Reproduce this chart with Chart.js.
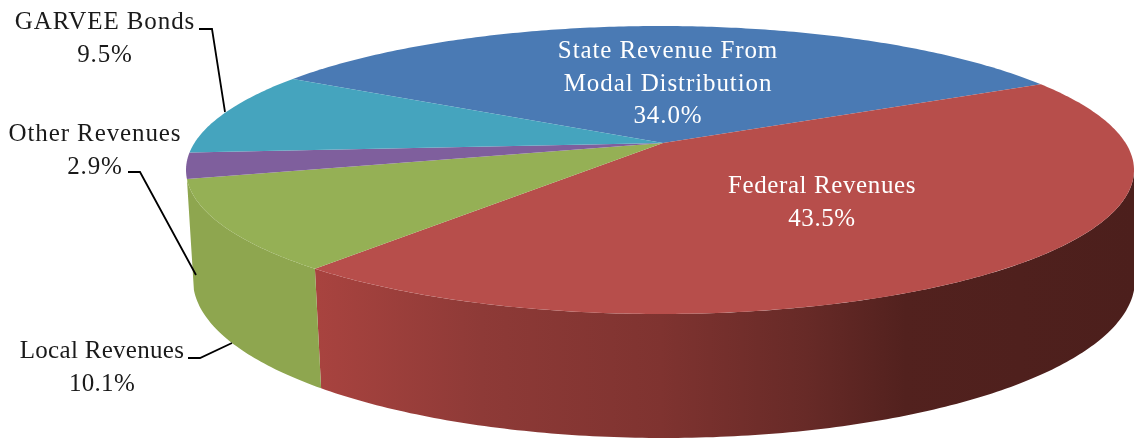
<!DOCTYPE html>
<html>
<head>
<meta charset="utf-8">
<title>Revenue sources</title>
<script src="https://cdn.jsdelivr.net/npm/chart.js@4"></script>
<style>
    html, body { margin: 0; padding: 0; background: #fff; }
    canvas { display: block; }
</style>
</head>
<body>
<canvas id="pieChart" width="1134" height="440"></canvas>
<script>
var categories = ['State Revenue From Modal Distribution', 'Federal Revenues', 'Local Revenues', 'Other Revenues', 'GARVEE Bonds'];
var shares = [34.0, 43.5, 10.1, 2.9, 9.5];
var sliceColors = ['#4a7ab4', '#b74e4b', '#95b055', '#7f5f9d', '#45a4be'];

// label placement: line breaks, anchor, and text colour per slice
var labelLines = [
    ['State Revenue From', 'Modal Distribution'],
    ['Federal Revenues'],
    ['Local Revenues'],
    ['Other Revenues'],
    ['GARVEE Bonds']
];
var labelAnchors = [[668, 58], [822, 193], [102, 358], [95, 141], [105, 29]];
var labelSpacing = [0.9, 0.6, 0.3, 0.9, 0.9];
var labelColors = ['#fff', '#fff', '#1a1a1a', '#1a1a1a', '#1a1a1a'];
var leaders = [
    [[199, 29], [212, 29], [225, 112]],
    [[128, 172], [140, 172], [196, 275]],
    [[188, 358], [200, 358], [232, 343]]
];

// shape of the tilted disc
var topRim = { x: 660, y: 170, rx: 474, ry: 144 };
var bottomRim = { x: 664, y: 280, rx: 471, ry: 158 };
var tilt = -0.188;
var apexShift = 3;

function project(rim, angle) {
    var u = Math.cos(angle);
    var v = Math.sin(angle);
    var d = 1 + tilt * v;
    return {
        x: rim.x + rim.rx * u * Math.sqrt(1 - tilt * tilt) / d,
        y: rim.y + rim.ry * (v + tilt) / d
    };
}

function traceRim(ctx, rim, start, end) {
    var steps = Math.max(2, Math.ceil(Math.abs(end - start) * 80));
    for (var i = 0; i <= steps; i++) {
        var p = project(rim, start + (end - start) * i / steps);
        ctx.lineTo(p.x, p.y);
    }
}

function wallFill(ctx, index, color) {
    if (index !== 1) {
        return index === 2 ? '#8ea64f' : color;
    }
    var g = ctx.createLinearGradient(318, 0, 1134, 0);
    g.addColorStop(0, '#a8433f');
    g.addColorStop(0.2, '#8e3a37');
    g.addColorStop(0.42, '#7f3330');
    g.addColorStop(0.6, '#672a27');
    g.addColorStop(0.72, '#52211e');
    g.addColorStop(1, '#4c1f1c');
    return g;
}

function drawWall(ctx, arc, fill) {
    // only the part of the rim that faces the viewer has a wall
    var frontStart = Math.asin(-tilt);
    var start = Math.max(arc.startAngle, frontStart);
    var end = Math.min(arc.endAngle, Math.PI - frontStart);
    if (end - start < 0.1) {
        return;
    }
    ctx.beginPath();
    traceRim(ctx, topRim, start, end);
    traceRim(ctx, bottomRim, end, start);
    ctx.closePath();
    ctx.fillStyle = fill;
    ctx.fill();
}

function drawFace(ctx, arc) {
    ctx.beginPath();
    ctx.moveTo(topRim.x + apexShift, topRim.y + topRim.ry * tilt);
    traceRim(ctx, topRim, arc.startAngle, arc.endAngle);
    ctx.closePath();
    ctx.fillStyle = arc.options.backgroundColor;
    ctx.fill();
}

var disc3d = {
    id: 'disc3d',
    beforeDatasetsDraw: function(chart) {
        var ctx = chart.ctx;
        var arcs = chart.getDatasetMeta(0).data;

        arcs.forEach(function(arc, i) {
            drawWall(ctx, arc, wallFill(ctx, i, arc.options.backgroundColor));
        });
        arcs.forEach(function(arc) {
            drawFace(ctx, arc);
        });
        return false;
    },
    afterDraw: function(chart) {
        var ctx = chart.ctx;
        ctx.save();
        ctx.strokeStyle = '#000';
        ctx.lineWidth = 1.8;
        leaders.forEach(function(line) {
            ctx.beginPath();
            ctx.moveTo(line[0][0], line[0][1]);
            ctx.lineTo(line[1][0], line[1][1]);
            ctx.lineTo(line[2][0], line[2][1]);
            ctx.stroke();
        });

        ctx.font = '25px "Liberation Serif"';
        ctx.textAlign = 'center';
        ctx.textBaseline = 'alphabetic';
        shares.forEach(function(share, i) {
            var lines = labelLines[i].concat(share.toFixed(1) + '%');
            ctx.fillStyle = labelColors[i];
            ctx.letterSpacing = labelSpacing[i] + 'px';
            lines.forEach(function(text, n) {
                ctx.fillText(text, labelAnchors[i][0], labelAnchors[i][1] + n * 32.5);
            });
        });
        ctx.restore();
    }
};

new Chart(document.getElementById('pieChart'), {
    type: 'pie',
    data: {
        labels: categories,
        datasets: [{
            data: shares,
            backgroundColor: sliceColors,
            borderWidth: 0
        }]
    },
    options: {
        responsive: false,
        animation: false,
        rotation: -59.7,
        plugins: {
            legend: { display: false },
            tooltip: { enabled: false }
        }
    },
    plugins: [disc3d]
});
</script>
</body>
</html>
